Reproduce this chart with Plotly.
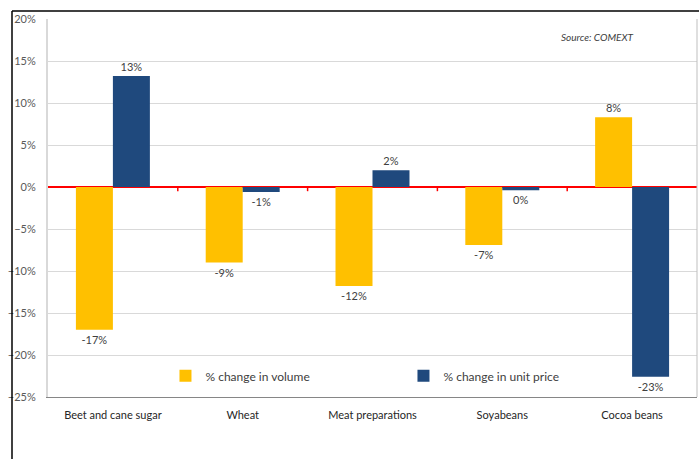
import plotly.graph_objects as go

# Trade changes by product (fractions)
products = ["Beet and cane sugar", "Wheat", "Meat preparations", "Soyabeans", "Cocoa beans"]
volume_change = [-0.170, -0.090, -0.118, -0.069, 0.083]
price_change = [0.132, -0.006, 0.020, -0.004, -0.226]
y_ticks = [-0.25, -0.20, -0.15, -0.10, -0.05, 0.0, 0.05, 0.10, 0.15, 0.20]

FONT = "Lato, 'Open Sans', sans-serif"
LABEL = dict(family=FONT, size=11, color="#404040")

fig = go.Figure()
fig.add_trace(go.Bar(
    x=products, y=volume_change, name="% change in volume",
    marker=dict(color="#FFC000", line=dict(width=0)),
    texttemplate="%{y:.0%}", textposition="outside", textfont=LABEL,
    cliponaxis=False, constraintext="none",
))
fig.add_trace(go.Bar(
    x=products, y=price_change, name="% change in unit price",
    marker=dict(color="#1F497D", line=dict(width=0)),
    texttemplate="%{y:.0%}", textposition="outside", textfont=LABEL,
    cliponaxis=False, constraintext="none",
))

# Small red tick marks on the zero line between categories
shapes = []
for i in range(len(products) - 1):
    shapes.append(dict(type="line", xref="x", yref="y", x0=i + 0.5, x1=i + 0.5,
                       y0=0, y1=-0.005, line=dict(color="#FF0000", width=1.5)))
# Outer frame (top and left edges)
shapes.append(dict(type="line", xref="paper", yref="paper",
                   x0=-36 / 649, x1=2 / 649 + 1, y0=1 + 8 / 378, y1=1 + 8 / 378,
                   line=dict(color="#000000", width=1.5)))
shapes.append(dict(type="line", xref="paper", yref="paper",
                   x0=-36 / 649, x1=-36 / 649, y0=1 + 8 / 378, y1=-62 / 378,
                   line=dict(color="#000000", width=1.5)))
# Right edge of plot area
shapes.append(dict(type="line", xref="paper", yref="paper",
                   x0=1, x1=1, y0=0, y1=1, line=dict(color="#BFBFBF", width=1)))

fig.update_layout(
    width=699, height=459,
    margin=dict(l=48, r=2, t=19, b=62),
    paper_bgcolor="white", plot_bgcolor="white",
    barmode="group", bargap=0.43, bargroupgap=0,
    font=dict(family=FONT, size=11, color="#404040"),
    showlegend=True,
    legend=dict(orientation="h", x=0.181, y=0.056, xanchor="left", yanchor="middle",
                entrywidth=193, entrywidthmode="pixels", itemwidth=30,
                font=dict(family=FONT, size=12, color="#404040"),
                bgcolor="rgba(0,0,0,0)", itemclick=False),
    shapes=shapes,
    annotations=[dict(text="<i>Source: COMEXT</i>", xref="paper", yref="paper",
                      x=0.846, y=0.952, xanchor="center", yanchor="middle",
                      showarrow=False, font=dict(family=FONT, size=10, color="#404040"))],
)
fig.update_yaxes(
    range=[-0.25, 0.20], tickvals=y_ticks, tickformat=".0%",
    showgrid=True, gridcolor="#D9D9D9", gridwidth=1,
    zeroline=True, zerolinecolor="#FF0000", zerolinewidth=2,
    showline=True, linecolor="#D9D9D9", linewidth=2,
    ticks="outside", ticklen=8, tickcolor="rgba(0,0,0,0)",
    tickfont=dict(family=FONT, size=11, color="#595959"),
)
fig.update_xaxes(
    showgrid=False, showline=True, linecolor="#868686", linewidth=1,
    ticks="outside", ticklen=8, tickcolor="rgba(0,0,0,0)",
    tickfont=dict(family=FONT, size=11, color="#262626"),
)

fig.write_html("out.html")
